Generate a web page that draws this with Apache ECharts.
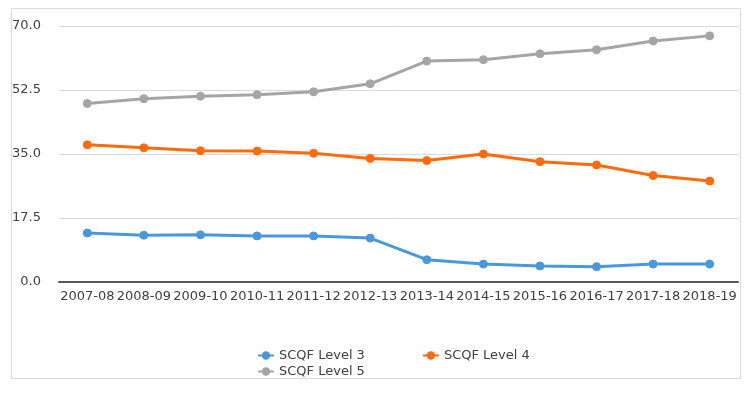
<!DOCTYPE html>
<html>
<head>
<meta charset="utf-8">
<script src="https://cdn.jsdelivr.net/npm/echarts@6/dist/echarts.min.js"></script>
<style>html,body{margin:0;padding:0;background:#fff;}#c{width:754px;height:394px;}</style>
</head>
<body>
<div id="c"></div>
<script>
const categories = ['2007-08','2008-09','2009-10','2010-11','2011-12','2012-13','2013-14','2014-15','2015-16','2016-17','2017-18','2018-19'];
const level3 = [13.4, 12.8, 12.9, 12.6, 12.6, 12.0, 6.1, 4.9, 4.4, 4.2, 4.9, 4.9];
const level4 = [37.5, 36.7, 35.9, 35.8, 35.2, 33.8, 33.2, 35.0, 32.9, 32.0, 29.1, 27.6];
const level5 = [48.8, 50.1, 50.8, 51.2, 52.0, 54.2, 60.4, 60.8, 62.4, 63.5, 65.9, 67.3];
const yTicks = [0, 17.5, 35, 52.5, 70];

const font = 'DejaVu Sans';
const chart = echarts.init(document.getElementById('c'), null, {renderer: 'canvas'});
function mk(name, data, color) {
  return {
    name, type: 'line', data,
    symbol: 'circle', symbolSize: 8,
    lineStyle: {width: 3, color},
    itemStyle: {color, borderColor: color, borderWidth: 1},
    emphasis: {disabled: true},
    animation: false
  };
}
chart.setOption({
  animation: false,
  graphic: [{
    type: 'rect', shape: {x: 11.5, y: 8.5, width: 729, height: 370},
    style: {fill: 'none', stroke: '#d9d9d9', lineWidth: 1}, z: -1
  }],
  grid: {left: 59, right: 16, top: 26, bottom: 112},
  xAxis: {
    type: 'category', data: categories, boundaryGap: true,
    axisLine: {lineStyle: {color: '#595959', width: 2}},
    axisTick: {show: false},
    axisLabel: {interval: 0, color: '#404040', fontFamily: font, fontSize: 13, margin: 8}
  },
  yAxis: {
    type: 'value', min: 0, max: 70, interval: 17.5,
    axisLine: {show: false}, axisTick: {show: false},
    splitLine: {lineStyle: {color: '#d9d9d9', width: 1}},
    axisLabel: {color: '#404040', fontFamily: font, fontSize: 13, margin: 18,
      formatter: v => yTicks.includes(v) ? v.toFixed(1) : ''}
  },
  legend: [{
    data: ['SCQF Level 3', 'SCQF Level 4'], left: 252, top: 344,
    itemWidth: 16, itemHeight: 8, itemGap: 57,
    textStyle: {color: '#404040', fontFamily: font, fontSize: 13}
  }, {
    data: ['SCQF Level 5'], left: 252, top: 360,
    itemWidth: 16, itemHeight: 8,
    textStyle: {color: '#404040', fontFamily: font, fontSize: 13}
  }],
  series: [
    mk('SCQF Level 3', level3, '#4a98dc'),
    mk('SCQF Level 4', level4, '#ff6a0a'),
    mk('SCQF Level 5', level5, '#a5a5a5')
  ]
});
</script>
</body>
</html>
